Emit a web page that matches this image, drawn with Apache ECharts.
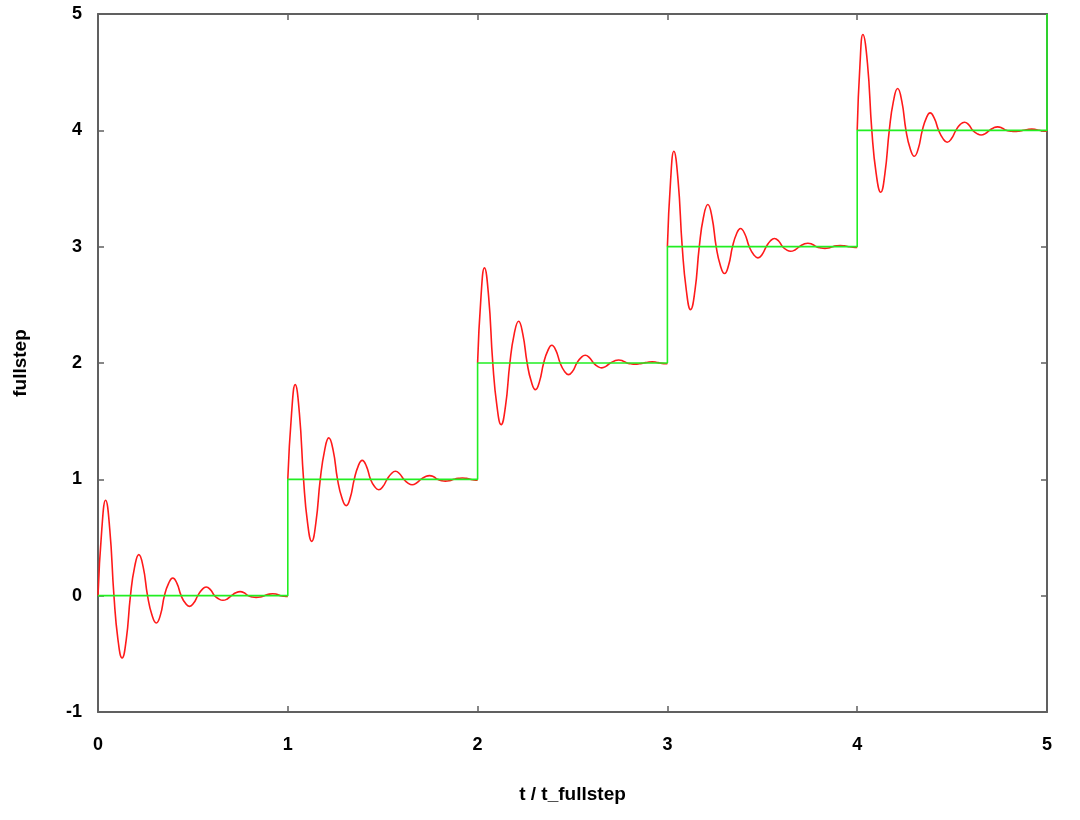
<!DOCTYPE html>
<html>
<head>
<meta charset="utf-8">
<script src="https://cdn.jsdelivr.net/npm/echarts@6/dist/echarts.min.js"></script>
<style>
  html, body { margin: 0; padding: 0; background: #ffffff; }
  #chart { width: 1080px; height: 820px; }
</style>
</head>
<body>
<div id="chart"></div>
<script>
// Tick labels
const xTicks = [0, 1, 2, 3, 4, 5];
const yTicks = [-1, 0, 1, 2, 3, 4, 5];

// Commanded full-step positions (green staircase)
const stepT = [0, 1, 2, 3, 4, 5];
const stepLevel = [0, 1, 2, 3, 4, 5];

// Measured response (red), one array per step: [t, position]
const response0 = [[0,0],[0.020,0.57],[0.040,0.82],[0.062,0.57],[0.084,0],[0.105,-0.375],[0.127,-0.536],[0.149,-0.375],[0.171,0],[0.193,0.247],[0.215,0.353],[0.238,0.247],[0.261,0],[0.284,-0.165],[0.307,-0.235],[0.329,-0.165],[0.350,0],[0.372,0.106],[0.394,0.152],[0.416,0.106],[0.438,0],[0.460,-0.064],[0.482,-0.092],[0.504,-0.064],[0.526,0],[0.548,0.052],[0.570,0.074],[0.592,0.052],[0.614,0],[0.636,-0.028],[0.658,-0.040],[0.681,-0.028],[0.703,0],[0.726,0.025],[0.749,0.035],[0.770,0.025],[0.791,0],[0.812,-0.011],[0.833,-0.015],[0.855,-0.011],[0.877,0],[0.898,0.012],[0.920,0.017],[0.941,0.012],[0.962,0],[0.981,-0.005],[1.0,-0.007]];
const response1 = [[1,1],[1.020,1.570],[1.039,1.814],[1.061,1.570],[1.083,1],[1.104,0.627],[1.126,0.467],[1.148,0.627],[1.171,1],[1.194,1.249],[1.216,1.356],[1.239,1.249],[1.262,1],[1.285,0.842],[1.308,0.774],[1.329,0.842],[1.350,1],[1.371,1.114],[1.392,1.163],[1.414,1.114],[1.436,1],[1.457,0.938],[1.479,0.911],[1.501,0.938],[1.523,1],[1.545,1.048],[1.567,1.069],[1.589,1.048],[1.611,1],[1.633,0.968],[1.655,0.954],[1.678,0.968],[1.701,1],[1.724,1.022],[1.747,1.032],[1.768,1.022],[1.789,1],[1.810,0.989],[1.830,0.985],[1.852,0.989],[1.875,1],[1.898,1.008],[1.920,1.012],[1.941,1.008],[1.962,1],[1.981,0.995],[2.0,0.993]];
const response2 = [[2,2],[2.018,2.573],[2.036,2.818],[2.058,2.573],[2.080,2],[2.102,1.629],[2.124,1.470],[2.147,1.629],[2.170,2],[2.193,2.251],[2.216,2.359],[2.238,2.251],[2.261,2],[2.283,1.840],[2.305,1.771],[2.326,1.840],[2.348,2],[2.370,2.106],[2.391,2.152],[2.413,2.106],[2.435,2],[2.457,1.930],[2.479,1.900],[2.501,1.930],[2.523,2],[2.545,2.046],[2.567,2.066],[2.589,2.046],[2.611,2],[2.632,1.971],[2.654,1.958],[2.676,1.971],[2.699,2],[2.721,2.018],[2.743,2.026],[2.765,2.018],[2.787,2],[2.808,1.993],[2.830,1.990],[2.852,1.993],[2.875,2],[2.898,2.007],[2.920,2.010],[2.940,2.007],[2.960,2],[2.980,1.995],[3.0,1.993]];
const response3 = [[3,3],[3.017,3.574],[3.034,3.820],[3.056,3.574],[3.078,3],[3.100,2.621],[3.122,2.459],[3.145,2.621],[3.168,3],[3.190,3.253],[3.213,3.362],[3.235,3.253],[3.257,3],[3.279,2.838],[3.301,2.769],[3.322,2.838],[3.343,3],[3.364,3.109],[3.385,3.156],[3.408,3.109],[3.431,3],[3.454,2.933],[3.477,2.904],[3.499,2.933],[3.521,3],[3.542,3.049],[3.564,3.070],[3.586,3.049],[3.607,3],[3.628,2.972],[3.649,2.960],[3.672,2.972],[3.695,3],[3.718,3.021],[3.740,3.030],[3.762,3.021],[3.785,3],[3.808,2.989],[3.830,2.985],[3.850,2.989],[3.870,3],[3.890,3.007],[3.910,3.010],[3.932,3.007],[3.955,3],[3.978,2.995],[4.0,2.993]];
const response4 = [[4,4],[4.015,4.577],[4.030,4.824],[4.054,4.577],[4.077,4],[4.100,3.628],[4.124,3.468],[4.146,3.628],[4.169,4],[4.191,4.251],[4.213,4.359],[4.235,4.251],[4.257,4],[4.279,3.844],[4.301,3.777],[4.322,3.844],[4.343,4],[4.364,4.105],[4.384,4.150],[4.406,4.105],[4.429,4],[4.452,3.929],[4.474,3.898],[4.497,3.929],[4.520,4],[4.542,4.049],[4.565,4.070],[4.587,4.049],[4.609,4],[4.631,3.972],[4.653,3.960],[4.675,3.972],[4.697,4],[4.718,4.021],[4.740,4.030],[4.762,4.021],[4.785,4],[4.808,3.993],[4.830,3.990],[4.852,3.993],[4.875,4],[4.898,4.007],[4.920,4.010],[4.940,4.007],[4.960,4],[4.980,3.995],[5.0,3.993]];

const xTitle = 't / t_fullstep';
const yTitle = 'fullstep';

const FRAME = '#606060';
const FONT = 'Liberation Sans, Arial, sans-serif';
const tickStyle = { color: '#000', fontWeight: 'bold', fontSize: 18, fontFamily: FONT };
const titleStyle = { color: '#000', fontWeight: 'bold', fontSize: 19, fontFamily: FONT };

function frameAxis(extra) {
  return Object.assign({
    type: 'value',
    splitLine: { show: false },
    axisLine: { show: true, onZero: false, lineStyle: { color: FRAME, width: 2 } },
    axisTick: { show: true, inside: true, length: 6, lineStyle: { color: FRAME, width: 1.5 } },
  }, extra);
}

const chart = echarts.init(document.getElementById('chart'), null, { renderer: 'canvas' });
const redSeries = [response0, response1, response2, response3, response4].map((seg, i) => ({
  name: 'response' + i,
  type: 'line',
  data: seg,
  xAxisIndex: 0, yAxisIndex: 0,
  showSymbol: false,
  smooth: 0.5,
  lineStyle: { color: '#ff1a1a', width: 1.6 },
  z: 2
}));

chart.setOption({
  animation: false,
  backgroundColor: '#ffffff',
  grid: { left: 98, right: 33, top: 14, bottom: 108, containLabel: false },
  xAxis: [
    frameAxis({
      min: xTicks[0], max: xTicks[xTicks.length - 1], interval: 1, position: 'bottom',
      name: xTitle, nameLocation: 'middle', nameGap: 73,
      nameTextStyle: titleStyle,
      axisLabel: Object.assign({ margin: 24 }, tickStyle)
    }),
    frameAxis({
      min: xTicks[0], max: xTicks[xTicks.length - 1], interval: 1, position: 'top',
      axisLabel: { show: false }
    })
  ],
  yAxis: [
    frameAxis({
      min: yTicks[0], max: yTicks[yTicks.length - 1], interval: 1, position: 'left',
      name: yTitle, nameLocation: 'middle', nameGap: 68, nameRotate: 90,
      nameTextStyle: titleStyle,
      axisLabel: Object.assign({ margin: 16 }, tickStyle)
    }),
    frameAxis({
      min: yTicks[0], max: yTicks[yTicks.length - 1], interval: 1, position: 'right',
      axisLabel: { show: false }
    })
  ],
  series: redSeries.concat([{
    name: 'fullstep',
    type: 'line',
    data: stepT.map((t, i) => [t, stepLevel[i]]),
    xAxisIndex: 0, yAxisIndex: 0,
    step: 'end',
    showSymbol: false,
    lineStyle: { color: '#22ee22', width: 1.6 },
    z: 3
  }])
});
</script>
</body>
</html>
